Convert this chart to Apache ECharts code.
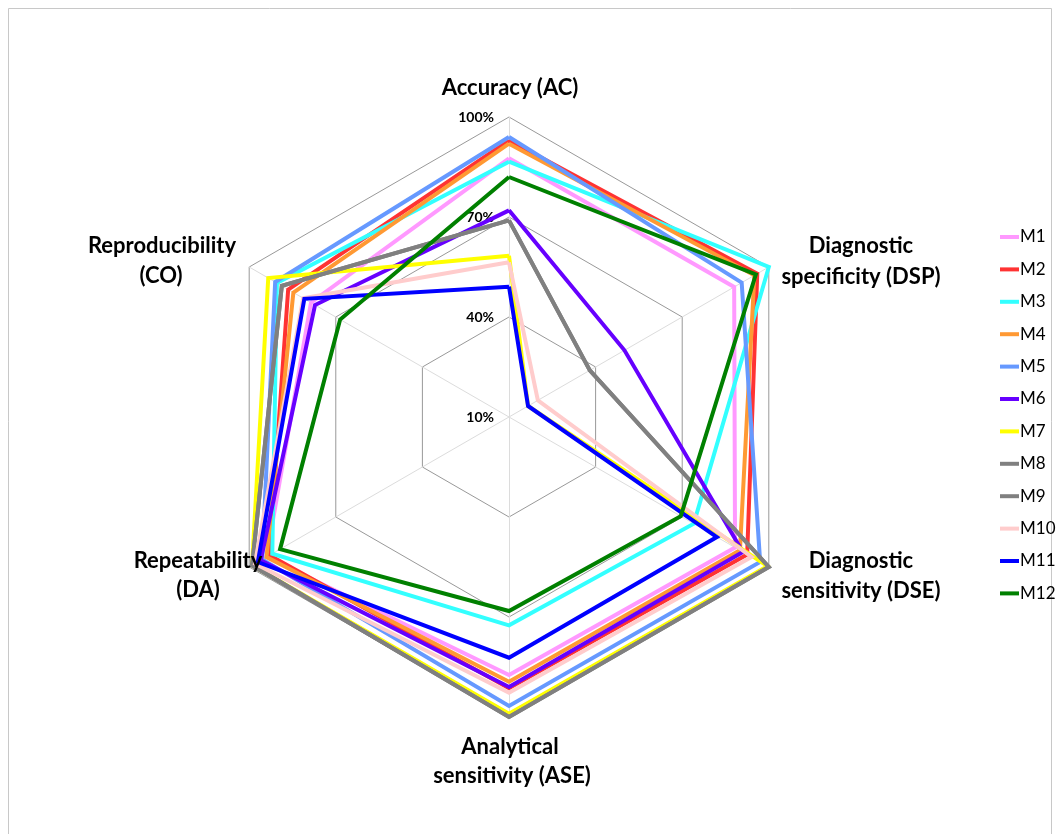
<!DOCTYPE html>
<html><head><meta charset="utf-8">
<script src="https://cdn.jsdelivr.net/npm/echarts@6/dist/echarts.min.js"></script>
<style>html,body{margin:0;padding:0;background:#fff}#c{width:1060px;height:834px}</style>
</head><body><div id="c"></div>
<script>
// Axes in the order they appear clockwise from the top
const axisNames = ['Accuracy (AC)', 'Diagnostic specificity (DSP)', 'Diagnostic sensitivity (DSE)',
  'Analytical sensitivity (ASE)', 'Repeatability (DA)', 'Reproducibility (CO)'];
const tickLabels = ['10%', '40%', '70%', '100%'];
const axisMin = 10, axisMax = 100, axisStep = 30;

const seriesNames = ['M1','M2','M3','M4','M5','M6','M7','M8','M9','M10','M11','M12'];
//          AC    DSP   DSE   ASE   DA    CO
const M1  = [87.6, 88.0, 88.3, 87.4, 94.0, 78.6];
const M2  = [93.0, 96.0, 92.5, 91.4, 93.0, 86.5];
const M3  = [86.6, 100,  74.0, 72.5, 92.0, 90.4];
const M4  = [92.0, 95.0, 90.0, 89.4, 94.0, 84.7];
const M5  = [94.0, 90.6, 97.0, 96.7, 95.5, 91.0];
const M6  = [72.0, 50.0, 91.0, 91.0, 96.0, 77.2];
const M7  = [58.4, 16.6, 99.5, 99.0, 99.0, 93.4];
const M8  = [69.0, 38.0, 100,  100,  99.0, 88.7];
const M9  = [69.0, 38.0, 100,  100,  99.0, 88.7];
const M10 = [56.4, 20.0, 94.0, 92.7, 98.0, 81.3];
const M11 = [49.1, 16.6, 82.0, 82.2, 97.0, 80.9];
const M12 = [82.0, 95.5, 69.5, 68.2, 89.3, 68.5];
const seriesValues = [M1, M2, M3, M4, M5, M6, M7, M8, M9, M10, M11, M12];
const seriesColors = ['#ff99ff','#ff3333','#33ffff','#ff9933','#6699ff','#6600ff',
  '#ffff00','#808080','#808080','#ffcccc','#0000ff','#008000'];

// ECharts lays indicators counter-clockwise; reorder so they run clockwise
const order = [0, 5, 4, 3, 2, 1];

const chart = echarts.init(document.getElementById('c'), null, {renderer: 'canvas'});
const indicator = order.map((i, k) => {
  const ind = {name: axisNames[i], min: axisMin, max: axisMax};
  if (k === 0) {
    ind.axisLabel = {show: true};
  }
  return ind;
});

const labelFont = {fontFamily: 'Lato', fontWeight: 'bold', fontSize: 22, fill: '#000'};
function lbl(text, x, y) {
  return {type: 'text', x: x, y: y, z: 100, zlevel: 0,
    style: Object.assign({text: text, align: 'center', verticalAlign: 'middle'}, labelFont), silent: true};
}

const option = {
  backgroundColor: '#fff',
  animation: false,
  color: seriesColors,
  legend: {
    orient: 'vertical', left: 995, top: 222,
    icon: 'rect', itemWidth: 19, itemHeight: 4, itemGap: 12.4,
    textStyle: {fontFamily: 'Lato', fontSize: 17, color: '#000', lineHeight: 20, padding: [0,0,0,-4]},
    data: seriesNames
  },
  radar: {
    center: [509, 417], radius: 300,
    startAngle: 90, shape: 'polygon', splitNumber: 3,
    indicator: indicator,
    axisName: {show: false},
    axisLine: {lineStyle: {color: '#dcdcdc', width: 1}},
    splitLine: {lineStyle: {color: '#999999', width: 1}},
    splitArea: {show: false},
    axisTick: {show: false},
    axisLabel: {show: false, margin: 15, fontFamily: 'Lato', fontWeight: 'bold', fontSize: 14, color: '#000',
      formatter: function (v) { return tickLabels[Math.round((v - axisMin) / axisStep)] || ''; }}
  },
  series: seriesNames.map((n, s) => ({
    type: 'radar', name: n, symbol: 'none',
    lineStyle: {width: 4, color: seriesColors[s], join: 'miter'},
    itemStyle: {color: seriesColors[s]},
    data: [{name: n, value: order.map(i => seriesValues[s][i])}]
  })),
  graphic: [
    {type: 'rect', shape: {x: 8.5, y: 8.5, width: 1043, height: 840}, style: {fill: 'none', stroke: '#c8c8c8', lineWidth: 1}, silent: true},
    lbl('Accuracy (AC)', 510, 88),
    lbl('Diagnostic', 861, 246), lbl('specificity (DSP)', 861, 277),
    lbl('Diagnostic', 861, 561), lbl('sensitivity (DSE)', 861, 591),
    lbl('Analytical', 510, 747), lbl('sensitivity (ASE)', 512, 776),
    lbl('Repeatability', 198, 561), lbl('(DA)', 198, 590),
    lbl('Reproducibility', 162, 246), lbl('(CO)', 161, 276)
  ]
};
chart.setOption(option);
</script></body></html>
